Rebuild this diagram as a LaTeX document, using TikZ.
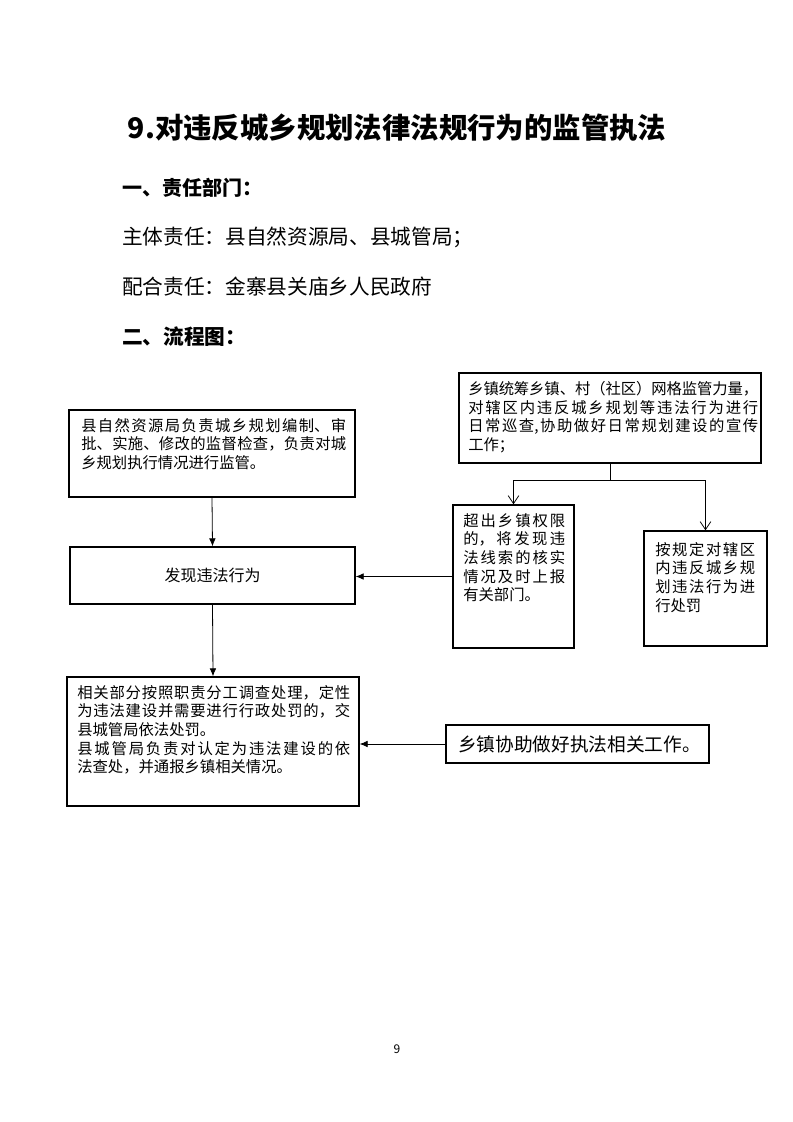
\documentclass[tikz,border=0pt]{standalone}
\usepackage{fontspec}
\setmainfont{Noto Sans CJK SC}
\usetikzlibrary{arrows.meta,fit}
\XeTeXlinebreaklocale "zh"
\XeTeXlinebreakskip=0pt plus 4pt minus 0.6pt
\tolerance=9999
\begin{document}
\begin{tikzpicture}[x=0.75pt,y=-0.75pt,
  box/.style={draw,line width=1pt,inner sep=0pt},
  btext/.style={anchor=north west,inner sep=0pt,align=justify,
    font=\fontsize{11.5}{14}\selectfont},
  arr/.style={line width=0.6pt,-{Latex[length=6pt,width=5pt]}},
  oarr/.style={line width=0.6pt,-{Straight Barb[length=6pt,width=8pt]}},
  head/.style={anchor=west,inner sep=0pt,font=\fontsize{15.5}{18}\selectfont}]
\path[use as bounding box] (0,0) rectangle (793,1122);

% title and headings
\node[inner sep=0pt,font=\fontsize{21.3}{24}\selectfont\bfseries] (title) at (397,128) {9.对违反城乡规划法律法规行为的监管执法};
\node[head,font=\fontsize{15}{18}\selectfont\bfseries] (h1) at (122,188) {一、责任部门：};
\node[head] (h2) at (122,237) {主体责任：县自然资源局、县城管局；};
\node[head] (h3) at (122,287) {配合责任：金寨县关庙乡人民政府};
\node[head,font=\fontsize{15.5}{18}\selectfont\bfseries] (h4) at (122,337) {二、流程图：};

% boxes
\node[box,fit={(459,373) (761,463)}] (TR) {};
\node[box,fit={(69,410) (355,497)}] (LT) {};
\node[box,fit={(70,547) (355,604)},label={[font=\fontsize{12}{14}\selectfont]center:发现违法行为}] (F) {};
\node[box,fit={(453,505) (574,648)}] (M) {};
\node[box,fit={(644,531) (767,646)}] (R) {};
\node[box,fit={(67,677) (359,806)}] (B) {};
\node[box,fit={(446,725) (709,763)}] (A) {};

% box texts
\node[btext,text width=217.5pt] (tTR) at (468,381) {乡镇统筹乡镇、村（社区）网格监管力量，\linebreak 对辖区内违反城乡规划等违法行为进行\linebreak 日常巡查,协助做好日常规划建设的宣传\linebreak 工作；};
\node[btext,text width=198.75pt] (tLT) at (81,418) {县自然资源局负责城乡规划编制、审\linebreak 批、实施、修改的监督检查，负责对城\linebreak 乡规划执行情况进行监管。};
\node[btext,text width=76.5pt] (tM) at (463,513) {超出乡镇权限\linebreak 的，将发现违\linebreak 法线索的核实\linebreak 情况及时上报\linebreak 有关部门。};
\node[btext,text width=75pt] (tR) at (655,542) {按规定对辖区\linebreak 内违反城乡规\linebreak 划违法行为进\linebreak 行处罚};
\node[btext,text width=204.75pt] (tB) at (77,685) {相关部分按照职责分工调查处理，定性\linebreak 为违法建设并需要进行行政处罚的，交\linebreak 县城管局依法处罚。\par 县城管局负责对认定为违法建设的依\linebreak 法查处，并通报乡镇相关情况。};
\node[anchor=west,inner sep=0pt,font=\fontsize{14}{16}\selectfont] (tA) at (458,744) {乡镇协助做好执法相关工作。};

% connectors
\draw[arr] (LT.south) -- (F.north);
\draw[arr] (F.south) -- (B.north);
\draw[arr] (M.west) -- (M.west -| F.east);
\draw[arr] (A.west) -- (A.west -| B.east);
\coordinate (jn) at (610,480);
\draw[line width=0.6pt] (TR.south) -- (TR.south |- jn);
\draw[oarr] (TR.south |- jn) -| (M.north);
\draw[oarr] (TR.south |- jn) -| (R.north);

% page number
\node[inner sep=0pt,font=\fontsize{9}{10}\selectfont] (pg) at (397,1049) {9};
\end{tikzpicture}
\end{document}
